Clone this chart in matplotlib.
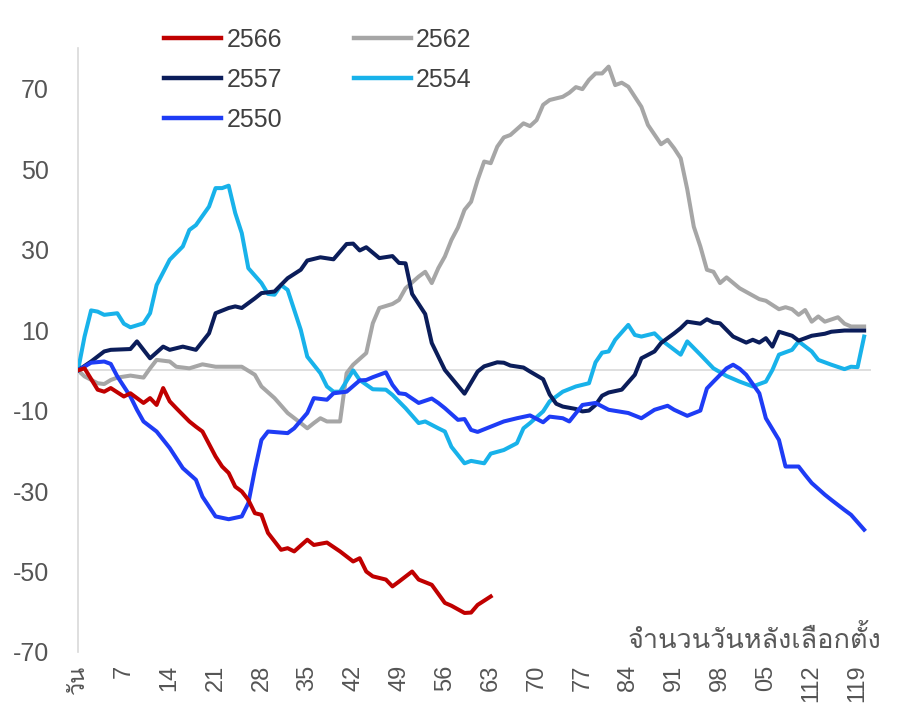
import matplotlib
matplotlib.use("Agg")
import matplotlib.pyplot as plt
from matplotlib import font_manager
from matplotlib.ft2font import FT2Font

# values (day after election, index change)
days_2566 = [0, 1, 3, 4, 5, 7, 8, 10, 11, 12, 13, 14, 15, 17, 18, 19, 21, 22, 23, 24, 25, 26, 27, 28,
             29, 31, 32, 33, 35, 36, 38, 40, 42, 43, 44, 45, 47, 48, 49, 51, 52, 54, 56, 57, 59, 60, 61, 63]
vals_2566 = [0, 0.5, -4.8, -5.3, -4.4, -6.5, -5.7, -8.1, -6.9, -8.6, -4.4, -7.7, -9.4, -12.7, -14.0, -15.2,
             -21.4, -23.9, -25.5, -28.9, -30.1, -32.2, -35.5, -35.9, -40.4, -44.6, -44.2, -45.0, -42.1, -43.4,
             -42.8, -45.0, -47.5, -46.7, -50.0, -51.2, -52.0, -53.7, -52.5, -50.0, -52.0, -53.3, -57.8, -58.5,
             -60.3, -60.2, -58.3, -56.2]

days_2562 = [0, 1, 3, 4, 5, 6, 8, 10, 11, 12, 14, 15, 17, 19, 21, 23, 25, 27, 28, 30, 32, 34, 35, 36, 37,
             38, 40, 41, 42, 44, 45, 46, 48, 49, 50, 52, 53, 54, 55, 56, 57, 58, 59, 60, 61, 62, 63, 64, 65,
             66, 68, 69, 70, 71, 72, 74, 75, 76, 77, 78, 79, 80, 81, 82, 83, 84, 86, 87, 89, 90, 91, 92, 93,
             94, 95, 96, 97, 98, 99, 101, 104, 105, 107, 108, 109, 110, 111, 112, 113, 114, 116, 117, 118, 120]
vals_2562 = [0, -1.5, -3.2, -3.4, -2.4, -1.8, -1.3, -1.8, 0.5, 2.6, 2.2, 0.9, 0.5, 1.5, 0.9, 0.9, 0.9, -1.1,
             -4.0, -6.9, -10.6, -13.1, -14.4, -13.1, -11.9, -12.7, -12.7, -0.7, 1.4, 4.3, 11.7, 15.5, 16.5,
             17.5, 20.4, 23.3, 24.5, 21.7, 25.4, 28.3, 32.4, 35.5, 39.9, 41.9, 47.3, 51.9, 51.5, 55.6, 57.9,
             58.5, 61.4, 60.7, 62.2, 66.0, 67.2, 68.0, 69.0, 70.4, 69.9, 72.2, 73.8, 73.8, 75.5, 70.9, 71.5,
             70.5, 65.5, 61.0, 56.2, 57.3, 55.2, 52.7, 45.0, 35.7, 30.8, 25.0, 24.5, 21.7, 23.1, 20.4, 17.7,
             17.3, 15.2, 15.7, 15.2, 13.8, 15.0, 12.1, 13.4, 12.1, 13.2, 11.6, 10.9, 10.9]

days_2557 = [0, 2, 4, 5, 8, 9, 10, 11, 13, 14, 16, 18, 20, 21, 23, 24, 25, 27, 28, 30, 32, 34, 35, 37, 39,
             41, 42, 43, 44, 46, 48, 49, 50, 51, 53, 54, 56, 59, 61, 62, 64, 65, 66, 68, 69, 71, 72, 73, 74,
             76, 77, 78, 79, 80, 81, 83, 85, 86, 88, 89, 91, 92, 93, 95, 96, 97, 98, 100, 102, 103, 104, 105,
             106, 107, 109, 110, 112, 114, 115, 117, 120]
vals_2557 = [0, 2.2, 4.7, 5.1, 5.3, 7.2, 5.1, 3.0, 5.9, 5.1, 5.9, 5.1, 9.2, 14.2, 15.5, 15.9, 15.5, 17.9,
             19.2, 19.6, 22.9, 25.0, 27.3, 28.1, 27.6, 31.4, 31.5, 29.8, 30.6, 27.9, 28.4, 26.7, 26.6, 19.0,
             14.0, 6.8, 0.1, -5.8, -0.3, 1.0, 2.0, 1.9, 1.2, 0.7, -0.3, -2.2, -6.0, -8.3, -9.0, -9.6, -10.2,
             -10.0, -8.6, -6.3, -5.5, -4.8, -1.1, 3.0, 4.7, 6.8, 9.2, 10.5, 12.1, 11.6, 12.7, 11.9, 11.7, 8.4,
             6.9, 7.6, 6.9, 8.0, 5.9, 9.6, 8.6, 7.4, 8.6, 9.1, 9.6, 9.9, 9.9]

days_2554 = [0, 1, 2, 3, 4, 6, 7, 8, 10, 11, 12, 14, 16, 17, 18, 20, 21, 22, 23, 24, 25, 26, 28, 29, 30,
             31, 32, 34, 35, 37, 38, 39, 40, 42, 43, 45, 47, 48, 50, 52, 53, 55, 56, 57, 59, 60, 62, 63, 65,
             67, 68, 69, 71, 72, 74, 76, 78, 79, 80, 81, 82, 84, 85, 86, 88, 89, 92, 93, 95, 97, 99, 101, 103,
             105, 106, 107, 109, 110, 112, 113, 115, 117, 118, 119, 120]
vals_2554 = [0, 8.4, 14.9, 14.6, 13.8, 14.2, 11.6, 10.7, 11.7, 14.2, 21.2, 27.5, 30.8, 34.9, 36.1, 40.7,
             45.3, 45.3, 45.9, 39.1, 34.1, 25.4, 21.7, 19.0, 18.8, 21.2, 20.0, 10.1, 3.4, -0.7, -4.0, -5.3,
             -5.3, 0.0, -2.4, -4.7, -4.8, -6.1, -9.4, -13.1, -12.7, -14.4, -15.2, -19.0, -23.1, -22.5, -23.1,
             -20.7, -19.8, -18.1, -14.4, -13.1, -10.2, -7.7, -5.3, -4.0, -3.2, 2.0, 4.4, 4.7, 7.6, 11.3, 8.8,
             8.4, 9.2, 7.6, 3.9, 7.2, 3.9, 0.5, -1.4, -2.8, -4.0, -2.8, 0.1, 3.9, 5.1, 7.2, 4.7, 2.6, 1.4,
             0.3, 0.9, 0.8, 8.4]

days_2550 = [0, 2, 4, 5, 6, 8, 9, 10, 12, 14, 16, 18, 19, 21, 23, 25, 26, 27, 28, 29, 32, 33, 35, 36, 38,
             39, 41, 43, 44, 45, 47, 48, 49, 50, 52, 54, 55, 56, 58, 59, 60, 61, 63, 65, 67, 69, 71, 72, 74,
             75, 77, 79, 81, 84, 86, 88, 90, 91, 93, 95, 96, 97, 99, 100, 101, 102, 104, 105, 107, 108, 110,
             111, 112, 114, 115, 117, 118, 120]
vals_2550 = [0, 1.9, 2.2, 1.6, -1.5, -6.5, -9.8, -12.7, -15.2, -19.3, -24.3, -27.2, -31.4, -36.3, -37.0,
             -36.3, -33.0, -24.7, -17.3, -15.2, -15.6, -14.4, -10.6, -6.9, -7.3, -5.7, -5.3, -2.5, -2.4, -1.7,
             -0.5, -3.6, -5.7, -5.9, -8.1, -7.0, -8.1, -9.4, -12.3, -12.1, -14.8, -15.3, -14.0, -12.7, -11.9,
             -11.2, -12.9, -11.5, -11.9, -12.7, -8.6, -8.1, -9.8, -10.6, -11.9, -9.8, -8.8, -9.8, -11.3, -10.0,
             -4.5, -2.8, 0.5, 1.4, 0.4, -1.1, -5.7, -11.9, -17.3, -23.9, -23.9, -26.0, -28.0, -30.9, -32.2,
             -34.7, -35.9, -39.6]

x_ticks = [0, 7, 14, 21, 28, 35, 42, 49, 56, 63, 70, 77, 84, 91, 98, 105, 112, 119]
x_tick_labels = ["วัน", "7", "14", "21", "28", "35", "42", "49", "56", "63", "70", "77", "84", "91",
                 "98", "05", "112", "119"]
y_ticks = [70, 50, 30, 10, -10, -30, -50, -70]
x_title = "จำนวนวันหลังเลือกตั้ง"


def thai_family():
    """Find an installed family that has Thai glyphs."""
    for f in font_manager.fontManager.ttflist:
        try:
            if 0x0E08 in FT2Font(f.fname).get_charmap():
                return f.name
        except Exception:
            continue
    return None


thai = thai_family()
families = ["Liberation Sans", thai] if thai else ["Liberation Sans"]
plt.rcParams["font.family"] = families

fig = plt.figure(figsize=(9.08, 7.10), dpi=100)
ax = fig.add_axes([0.0859, 0.0817, 0.873, 0.85])

series = [
    ("2566", days_2566, vals_2566, "#C00000"),
    ("2557", days_2557, vals_2557, "#0B1D5A"),
    ("2550", days_2550, vals_2550, "#1E3CF5"),
    ("2562", days_2562, vals_2562, "#A6A6A6"),
    ("2554", days_2554, vals_2554, "#18B2EA"),
]
# draw order: light ones first so dark lines sit on top
z = {"2562": 2, "2554": 3, "2557": 4, "2550": 5, "2566": 6}
for label, d, v, color in series:
    ax.plot(d, v, color=color, linewidth=2.9, label=label, zorder=z[label],
            solid_joinstyle="round")

ax.axhline(0, color="#D9D9D9", linewidth=1.2, zorder=1)

ax.set_xlim(0, 121)
ax.set_ylim(-70, 80)
ax.set_yticks(y_ticks)
ax.set_yticklabels([str(t) for t in y_ticks])
ax.set_xticks(x_ticks)
ax.set_xticklabels(x_tick_labels, rotation=90)
ax.tick_params(axis="both", length=0, labelsize=18, colors="#555555")
ax.tick_params(axis="x", labelsize=17, pad=9)
ax.tick_params(axis="y", pad=21)

for s in ["top", "right", "bottom"]:
    ax.spines[s].set_visible(False)
ax.spines["left"].set_color("#D9D9D9")
ax.spines["left"].set_linewidth(1.2)

fig.text(0.971, 0.0986, x_title, ha="right", va="center", fontsize=19.5, color="#595959")

leg = ax.legend(ncol=2, loc="upper left", bbox_to_anchor=(0.08, 1.072), frameon=False,
                fontsize=18, handlelength=2.3, handletextpad=0.2, columnspacing=2.86,
                labelspacing=0.65)
for line in leg.get_lines():
    line.set_linewidth(3.2)
for text in leg.get_texts():
    text.set_color("#404040")

plt.savefig("out.png", dpi=100)
plt.close()
